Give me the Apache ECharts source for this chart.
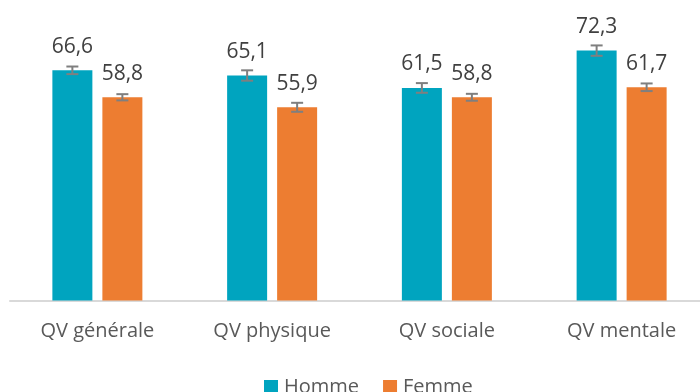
<!DOCTYPE html>
<html>
<head>
<meta charset="utf-8">
<script src="https://cdn.jsdelivr.net/npm/echarts@6/dist/echarts.min.js"></script>
<style>
  html, body { margin: 0; padding: 0; background: #ffffff; }
  #chart { width: 700px; height: 392px; }
</style>
</head>
<body>
<div id="chart"></div>
<script>
// Quality-of-life scores by dimension and sex, with error margins
const categories = ['QV générale', 'QV physique', 'QV sociale', 'QV mentale'];
const hommeValues = [66.6, 65.1, 61.5, 72.3];
const femmeValues = [58.8, 55.9, 58.8, 61.7];
const hommeErrors = [1.1, 1.5, 1.4, 1.5];
const femmeErrors = [0.9, 1.3, 1.0, 1.1];

const TEAL = '#00A4BF';
const ORANGE = '#ED7D31';
const BAR_W = 40;
const BAR_GAP = 10;

const fmt = v => v.toFixed(1).replace('.', ',');

// Whisker renderer: offset = horizontal shift of the bar inside its category
function errorRenderer(offset) {
  return function (params, api) {
    const idx = api.value(0);
    const lo = api.coord([idx, api.value(1)]);
    const hi = api.coord([idx, api.value(2)]);
    const x = lo[0] + offset;
    const cap = 6;
    const style = { stroke: '#7F7F7F', lineWidth: 2, fill: null };
    return {
      type: 'group',
      children: [
        { type: 'line', shape: { x1: x, y1: lo[1], x2: x, y2: hi[1] }, style },
        { type: 'line', shape: { x1: x - cap, y1: lo[1], x2: x + cap, y2: lo[1] }, style },
        { type: 'line', shape: { x1: x - cap, y1: hi[1], x2: x + cap, y2: hi[1] }, style }
      ]
    };
  };
}

const hommeErrData = hommeValues.map((v, i) => [i, v - hommeErrors[i], v + hommeErrors[i]]);
const femmeErrData = femmeValues.map((v, i) => [i, v - femmeErrors[i], v + femmeErrors[i]]);
const shift = (BAR_W + BAR_GAP) / 2;

const chart = echarts.init(document.getElementById('chart'));
chart.setOption({
  animation: false,
  textStyle: { fontFamily: 'Open Sans' },
  grid: {
    left: 10, width: 699, top: 24, bottom: 91.5,
    containLabel: false, outerBoundsMode: 'none'
  },
  legend: {
    left: 259,
    top: 372,
    itemWidth: 14,
    itemHeight: 14,
    itemGap: 24,
    icon: 'rect',
    textStyle: { fontSize: 20, color: '#595959', fontFamily: 'Open Sans', padding: [0, 0, 0, 1] },
    data: ['Homme', 'Femme']
  },
  xAxis: {
    type: 'category',
    data: categories,
    axisLine: { lineStyle: { color: '#D9D9D9', width: 2 } },
    axisTick: { show: false },
    axisLabel: { fontSize: 20, color: '#595959', margin: 21, fontFamily: 'Open Sans' }
  },
  yAxis: {
    type: 'value',
    min: 0,
    max: 80,
    show: false,
    splitLine: { show: false }
  },
  series: [
    {
      name: 'Homme',
      type: 'bar',
      data: hommeValues,
      barWidth: BAR_W,
      barGap: (BAR_GAP / BAR_W * 100) + '%',
      itemStyle: { color: TEAL },
      label: {
        show: true, position: 'top', distance: 13,
        fontSize: 21, color: '#404040', fontFamily: 'Open Sans',
        formatter: p => fmt(p.value)
      }
    },
    {
      name: 'Femme',
      type: 'bar',
      data: femmeValues,
      barWidth: BAR_W,
      itemStyle: { color: ORANGE },
      label: {
        show: true, position: 'top', distance: 13,
        fontSize: 21, color: '#404040', fontFamily: 'Open Sans',
        formatter: p => fmt(p.value)
      }
    },
    {
      type: 'custom',
      renderItem: errorRenderer(-shift),
      data: hommeErrData,
      encode: { x: 0, y: [1, 2] },
      z: 5,
      silent: true
    },
    {
      type: 'custom',
      renderItem: errorRenderer(shift),
      data: femmeErrData,
      encode: { x: 0, y: [1, 2] },
      z: 5,
      silent: true
    }
  ]
});
</script>
</body>
</html>
